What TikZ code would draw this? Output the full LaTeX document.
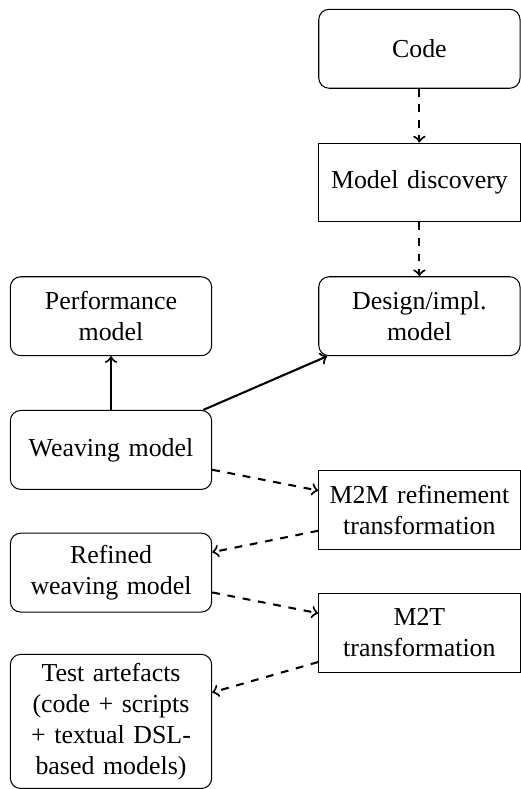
\documentclass[tikz,border=0pt]{standalone}
\usepackage{fontspec}
\setmainfont{Liberation Serif}
\usetikzlibrary{positioning}
\hyphenpenalty=10000

\begin{document}
\begin{tikzpicture}[
    node distance=7.3mm and 14.4mm,
    model/.style={
        rectangle, rounded corners, draw=black,
        align=center, text width=2.5cm, minimum height=30.5pt
    },
    trans/.style={
        rectangle, draw=black,
        align=center, text width=2.5cm, minimum height=30.5pt
    },
    arrow/.style={->, thick},
    darrow/.style={->, thick, dashed}
]
\node[model] (code) {Code};
\node[trans, below=of code] (disc) {Model discovery};
\node[model, below=of disc] (design) {Design/impl.\ model};
\node[model, left=of design] (perf) {Performance model};
\node[model, below=of perf] (weave) {Weaving model};
\node[trans, below=15.5mm of design] (m2m) {M2M refinement transformation};
\node[model, below=5.8mm of weave] (refined) {Refined weaving model};
\node[trans, below=5.8mm of m2m] (m2t) {M2T transformation};
\node[model, below=5.6mm of refined] (test) {Test artefacts (code + scripts + textual DSL-based models)};

\useasboundingbox ([shift={(-3.8pt,3.4pt)}]perf.west |- code.north) rectangle ++(199pt,-300.6pt);

\draw[darrow] (code) -- (disc);
\draw[darrow] (disc) -- (design);
\draw[arrow] (weave) -- (perf);
\draw[arrow] (weave) -- (design);
\draw[darrow] (weave) -- (m2m);
\draw[darrow] (m2m) -- (refined);
\draw[darrow] (refined) -- (m2t);
\draw[darrow] (m2t) -- (test);
\end{tikzpicture}
\end{document}
